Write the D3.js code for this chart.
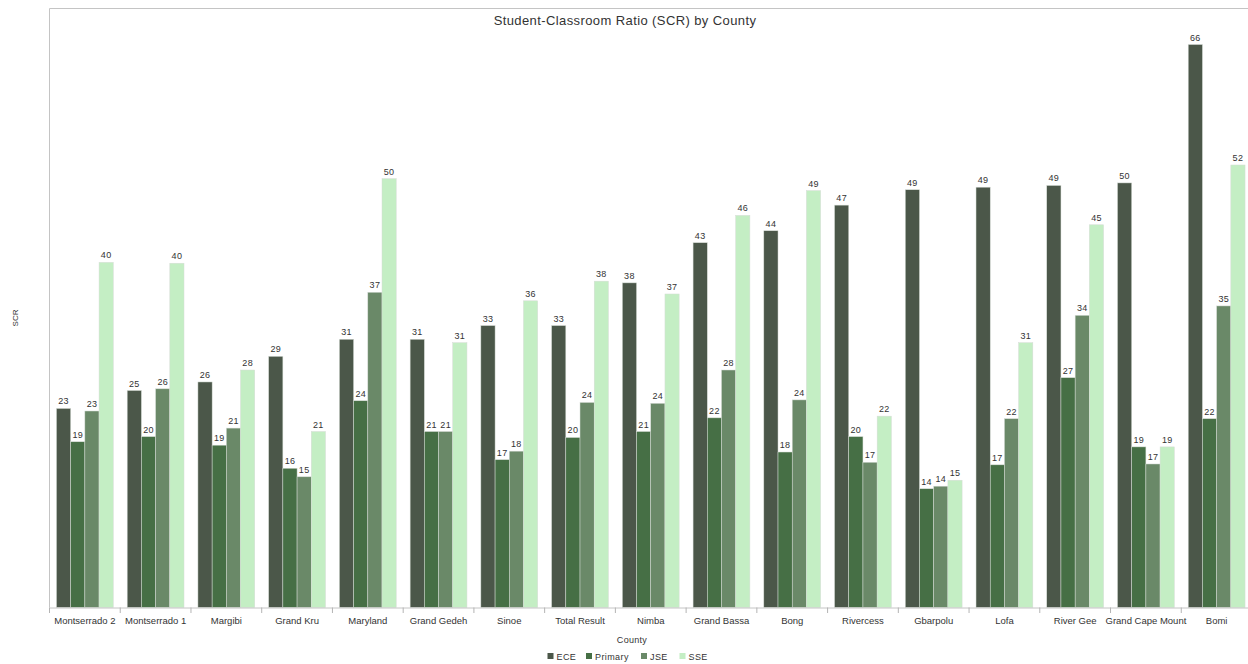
<!DOCTYPE html>
<html>
<head>
<meta charset="utf-8">
<script src="https://cdn.jsdelivr.net/npm/d3@7"></script>
<style>
  html, body { margin: 0; padding: 0; background: #fff; overflow: hidden; }
  svg { display: block; font-family: "Liberation Sans", Arial, sans-serif; }
</style>
</head>
<body>
<svg id="chart" width="1248" height="664"></svg>
<script>
const categories = ["Montserrado 2", "Montserrado 1", "Margibi", "Grand Kru", "Maryland", "Grand Gedeh", "Sinoe", "Total Result", "Nimba", "Grand Bassa", "Bong", "Rivercess", "Gbarpolu", "Lofa", "River Gee", "Grand Cape Mount", "Bomi"];
const seriesNames = ["ECE", "Primary", "JSE", "SSE"];
const ece     = [23.3, 25.4, 26.4, 29.4, 31.4, 31.4, 33.0, 33.0, 38.0, 42.7, 44.1, 47.1, 48.9, 49.2, 49.4, 49.7, 65.9];
const primary = [19.4, 20.0, 19.0, 16.3, 24.2, 20.6, 17.3, 19.9, 20.6, 22.2, 18.2, 20.0, 13.9, 16.7, 26.9, 18.8, 22.1];
const jse     = [23.0, 25.6, 21.0, 15.3, 36.9, 20.6, 18.3, 24.0, 23.9, 27.8, 24.3, 17.0, 14.2, 22.1, 34.2, 16.8, 35.3];
const sse     = [40.4, 40.3, 27.8, 20.6, 50.2, 31.0, 35.9, 38.2, 36.7, 45.9, 48.8, 22.4, 14.9, 31.0, 44.8, 18.8, 51.8];
const seriesValues = [ece, primary, jse, sse];
const colors = ["#4b5749", "#466f45", "#6a8968", "#c4eec4"];

const svg = d3.select("#chart");
const margin = {left: 49.5, top: 8.5, right: -4, bottom: 56.5};
const W = 1248, H = 664;
const plotRight = W - margin.right;
const baseY = H - margin.bottom;

const x0 = d3.scaleBand().domain(categories).range([margin.left, plotRight]).paddingInner(0).paddingOuter(0);
const x1 = d3.scaleBand().domain(seriesNames).range([0, x0.bandwidth()]).paddingInner(0).paddingOuter(0.49);
const y = d3.scaleLinear().domain([0, 70]).range([baseY, margin.top + 1]);

// frame (top + left)
svg.append("line").attr("x1", margin.left).attr("x2", W).attr("y1", margin.top).attr("y2", margin.top)
  .attr("stroke", "#c4c4c4").attr("stroke-width", 1);
svg.append("line").attr("x1", margin.left).attr("x2", margin.left).attr("y1", margin.top).attr("y2", baseY)
  .attr("stroke", "#c4c4c4").attr("stroke-width", 1);

// bars
const rows = categories.map((c, i) => ({cat: c, vals: seriesNames.map((s, j) => ({s, j, v: seriesValues[j][i]}))}));
const g = svg.append("g");
const grp = g.selectAll("g.grp").data(rows).join("g").attr("class", "grp")
  .attr("transform", d => `translate(${x0(d.cat)},0)`);
grp.selectAll("rect").data(d => d.vals).join("rect")
  .attr("x", d => x1(d.s))
  .attr("width", x1.bandwidth())
  .attr("y", d => y(d.v))
  .attr("height", d => baseY - y(d.v))
  .attr("fill", d => colors[d.j])
  .attr("stroke", "#d6dcd6").attr("stroke-width", 0.5);
grp.selectAll("text").data(d => d.vals).join("text")
  .attr("x", d => x1(d.s) + x1.bandwidth() / 2)
  .attr("y", d => y(d.v) - 4)
  .attr("text-anchor", "middle")
  .attr("font-size", 9).attr("letter-spacing", 0.3).attr("fill", "#333")
  .text(d => Math.round(d.v));

// x axis
const xAxis = d3.axisBottom(x0).tickSize(0).tickPadding(10);
const ax = svg.append("g").attr("transform", `translate(0,${baseY})`).call(xAxis);
ax.select(".domain").attr("stroke", "#c4c4c4");
ax.selectAll("text").attr("font-size", 9.5).attr("fill", "#333").attr("font-family", "Liberation Sans, Arial, sans-serif");
// boundary ticks
svg.append("g").selectAll("line").data(categories.concat(["__end"])).join("line")
  .attr("x1", d => d === "__end" ? plotRight : x0(d))
  .attr("x2", d => d === "__end" ? plotRight : x0(d))
  .attr("y1", baseY).attr("y2", baseY + 5.5)
  .attr("stroke", "#b4b4b4").attr("stroke-width", 1);

// titles
svg.append("text").attr("x", 625).attr("y", 25).attr("text-anchor", "middle")
  .attr("font-size", 13).attr("letter-spacing", 0.4).attr("fill", "#333").text("Student-Classroom Ratio (SCR) by County");
svg.append("text").attr("x", 632).attr("y", 643).attr("text-anchor", "middle")
  .attr("font-size", 9).attr("letter-spacing", 0.3).attr("fill", "#333").text("County");
svg.append("text").attr("transform", "translate(18,318) rotate(-90)").attr("text-anchor", "middle")
  .attr("font-size", 8).attr("fill", "#333").text("SCR");

// legend
const legendX = [547.5, 586, 641, 679.5];
const lg = svg.append("g").selectAll("g").data(seriesNames).join("g")
  .attr("transform", (d, i) => `translate(${legendX[i]},653)`);
lg.append("rect").attr("width", 6).attr("height", 6).attr("fill", (d, i) => colors[i]);
lg.append("text").attr("x", 9).attr("y", 6.5).attr("font-size", 9).attr("letter-spacing", 0.4).attr("fill", "#333").text(d => d);
</script>
</body>
</html>
